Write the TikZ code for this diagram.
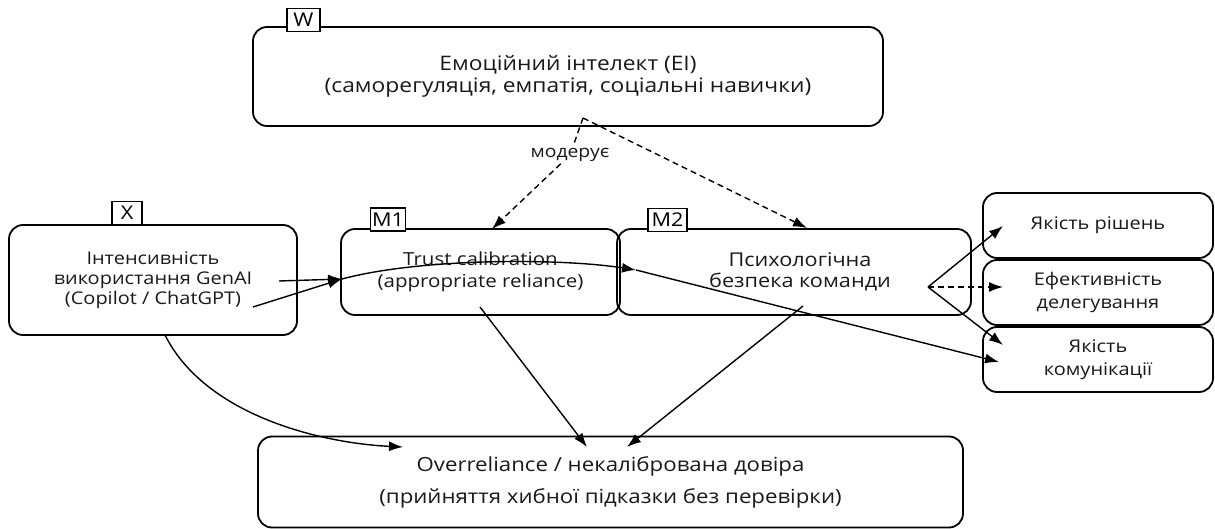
\documentclass[tikz,border=0pt]{standalone}
\usepackage{fontspec}
\setmainfont{Open Sans}[FakeStretch=1.14]
\usetikzlibrary{arrows.meta}
\newcommand{\fw}{\fontsize{20}{22}\selectfont}
\newcommand{\fx}{\fontsize{17.5}{20}\selectfont}
\newcommand{\fmone}{\fontsize{18}{22}\selectfont}
\newcommand{\fmtwo}{\fontsize{19}{21}\selectfont}
\newcommand{\fr}{\fontsize{17.5}{23}\selectfont}
\newcommand{\fb}{\fontsize{19.5}{24}\selectfont}
\newcommand{\fst}{\fontsize{17}{20}\selectfont}
\newcommand{\ftag}{\fontsize{19}{20}\selectfont}
\begin{document}
\begin{tikzpicture}[x=1pt,y=-1pt,
  box/.style={draw, rounded corners=14pt, line width=1.8pt, align=center, inner sep=0pt, text=black!90},
  tag/.style={draw, fill=white, line width=1.4pt, font=\ftag, inner sep=1.5pt, minimum height=23pt, text=black},
  conn/.style={line width=1.4pt, -{Latex[length=14pt,width=10pt]}},
  dconn/.style={conn, dash pattern=on 6pt off 4pt}]
\useasboundingbox (0,0) rectangle (1215,529);
% boxes
\node[box, font=\fw, minimum width=630pt, minimum height=99pt] (W) at (568,76.5)
  {Емоційний інтелект (EI)\\(саморегуляція, емпатія, соціальні навички)};
\node[box, font=\fx, minimum width=288pt, minimum height=110pt] (X) at (153,280)
  {Інтенсивність\\використання GenAI\\(Copilot / ChatGPT)};
\node[box, font=\fmone, minimum width=279pt, minimum height=86pt] (M1) at (480.5,272)
  {Trust calibration\\(appropriate reliance)};
\node[box, font=\fmtwo, minimum width=354pt, minimum height=86pt] (M2) at (794,272)
  {\hspace*{12pt}Психологічна\\\hspace*{12pt}безпека команди};
\node[box, font=\fr, minimum width=230pt, minimum height=65pt] (R1) at (1098,225.5)
  {Якість рішень};
\node[box, font=\fr, minimum width=230pt, minimum height=65pt] (R2) at (1098,292.5)
  {Ефективність\\делегування};
\node[box, font=\fr, minimum width=230pt, minimum height=65pt] (R3) at (1098,359.5)
  {Якість\\комунікації};
\node[box, font=\fb, minimum width=705pt, minimum height=91pt] (B) at (610.5,482)
  {Overreliance / некалібрована довіра\\[8pt](прийняття хибної підказки без перевірки)};
% tags
\node[tag, minimum width=33pt] (tW) at (303.5,20) {W};
\node[tag, minimum width=30pt] (tX) at (127,213) {X};
\node[tag, minimum width=35pt] (tM1) at (388,219.5) {M1};
\node[tag, minimum width=39pt] (tM2) at (667.5,220) {M2};
% label
\node[font=\fst, fill=white, inner sep=2pt, text=black!90] (mod) at (570,155) {модерує};
% coordinates
\coordinate (ws) at (583,118);
\coordinate (m1t) at (492,229);
\coordinate (m2t) at (807,228);
\coordinate (xa) at (279,281);
\coordinate (xb) at (253,307);
\coordinate (m1w) at (342,279);
\coordinate (m2a) at (636,270);
\coordinate (r3b) at (999,362);
\coordinate (m2r) at (928,287);
\coordinate (r1a) at (1003,226);
\coordinate (r2a) at (1003,287);
\coordinate (r3a) at (1003,345);
\coordinate (xs) at (165,335);
\coordinate (ba) at (403,447);
\coordinate (m1s) at (480,307);
\coordinate (bb) at (587,447);
\coordinate (m2s) at (803,306);
\coordinate (bc) at (627,447);
% connectors
\draw[dconn] (ws) -- (mod) -- (m1t);
\draw[dconn] (ws) -- (m2t);
\draw[conn] (xa) -- (m1w);
\draw[conn] (xb) -- (m1w);
\draw[conn] (m1w) .. controls (420,258) and (560,258) .. (m2a);
\draw[conn] (m2a) -- (r3b);
\draw[conn] (m2r) -- (r1a);
\draw[dconn] (m2r) -- (r2a);
\draw[conn] (m2r) -- (r3a);
\draw[conn] (xs) .. controls (205,415) and (320,443) .. (ba);
\draw[conn] (m1s) -- (bb);
\draw[conn] (m2s) -- (bc);
\end{tikzpicture}
\end{document}
